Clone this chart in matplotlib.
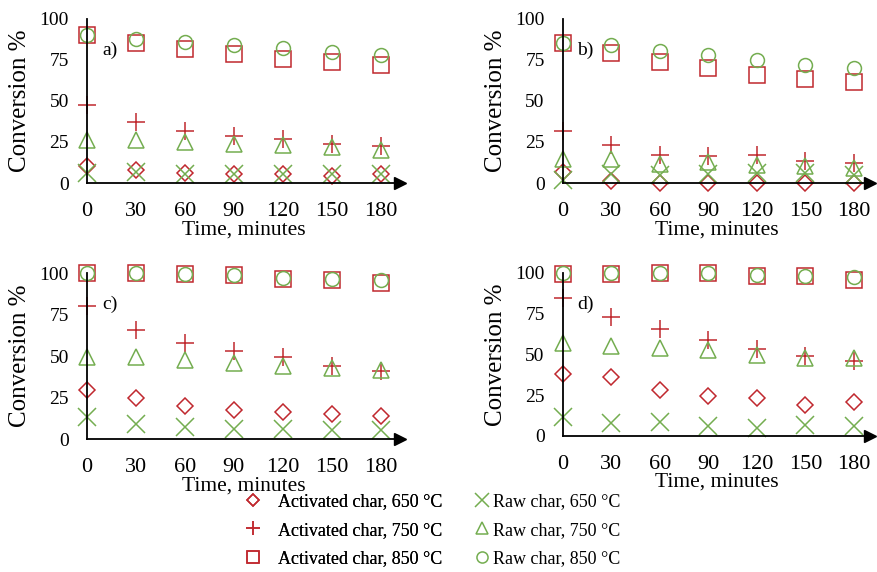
import matplotlib
matplotlib.use("Agg")
import matplotlib.pyplot as plt

plt.rcParams['font.family'] = ['Liberation Serif', 'DejaVu Serif']

# Datos
time = [0, 30, 60, 90, 120, 150, 180]
panels = ['a)', 'b)', 'c)', 'd)']

# series por panel: activado 650/750/850, crudo 650/750/850
act650 = [[10.5, 7.7, 6.1, 5.7, 5.7, 4.5, 5.3],
          [6.5, 1.0, 0.0, 0.0, 0.0, 0.0, 0.0],
          [29.6, 24.5, 20.1, 17.5, 16.5, 14.9, 13.9],
          [37.9, 35.9, 28.3, 24.6, 23.2, 19.1, 21.1]]
act750 = [[47.7, 37.3, 31.8, 28.4, 26.8, 23.9, 22.3],
          [31.8, 22.9, 17.2, 16.2, 17.2, 13.6, 12.2],
          [80.3, 65.8, 58.1, 53.1, 49.3, 44.0, 41.2],
          [84.6, 73.0, 65.6, 59.0, 53.5, 48.8, 46.3]]
act850 = [[90.3, 85.6, 81.5, 78.5, 75.5, 73.8, 71.6],
          [85.6, 79.5, 74.0, 70.0, 66.0, 63.5, 61.3],
          [100.0, 100.0, 99.4, 98.6, 96.6, 96.0, 94.0],
          [99.4, 99.4, 100.0, 100.0, 98.4, 98.0, 95.9]]
raw650 = [[6.0, 6.7, 5.5, 5.5, 5.5, 5.3, 5.3],
          [2.0, 5.7, 5.0, 5.7, 6.0, 6.0, 5.0],
          [13.1, 8.9, 7.4, 6.0, 6.0, 5.4, 5.4],
          [11.9, 7.8, 8.8, 6.1, 4.7, 6.8, 6.1]]
raw750 = [[26.4, 26.4, 24.7, 24.0, 23.0, 21.7, 19.9],
          [14.6, 14.6, 11.8, 12.6, 11.2, 10.1, 9.1],
          [49.7, 49.7, 47.7, 45.7, 44.0, 42.7, 41.6],
          [57.0, 55.3, 53.9, 52.9, 49.8, 47.7, 47.7]]
raw850 = [[90.0, 87.6, 86.0, 84.0, 82.0, 80.0, 78.0],
          [85.6, 83.8, 80.7, 78.0, 75.0, 72.0, 70.0],
          [100.0, 100.0, 99.4, 98.6, 97.0, 96.4, 95.6],
          [100.0, 100.0, 100.0, 100.0, 99.0, 98.4, 97.3]]

red = '#C0282E'
green = '#74AD50'
series = [
    (act650, 'D', red, 8, 'Activated char, 650 °C'),
    (act750, '+', red, 13, 'Activated char, 750 °C'),
    (act850, 's', red, 11, 'Activated char, 850 °C'),
    (raw650, 'x', green, 13, 'Raw char, 650 °C'),
    (raw750, '^', green, 11, 'Raw char, 750 °C'),
    (raw850, 'o', green, 10, 'Raw char, 850 °C'),
]

fig = plt.figure(figsize=(8.78, 5.72), dpi=100)
boxes = [(0.099, 0.680, 0.357, 0.287),
         (0.641, 0.680, 0.350, 0.287),
         (0.099, 0.2325, 0.357, 0.290),
         (0.641, 0.2378, 0.350, 0.285)]
xmax = [192, 190, 192, 190]

handles = []
for i, box in enumerate(boxes):
    ax = fig.add_axes(box)
    for data, m, c, ms, lab in series:
        h, = ax.plot(time, data[i], linestyle='none', marker=m, ms=ms,
                     mfc='none', mec=c, mew=1.1, clip_on=False, label=lab)
        if i == 0:
            handles.append(h)
    ax.set_xlim(0, xmax[i])
    ax.set_ylim(0, 100)
    ax.set_xticks(time)
    ax.set_yticks([0, 25, 50, 75, 100])
    ax.tick_params(length=0)
    ax.tick_params(axis='x', pad=14, labelsize=16)
    ax.tick_params(axis='y', pad=13, labelsize=14)
    for s in ['top', 'right']:
        ax.spines[s].set_visible(False)
    for s in ['left', 'bottom']:
        ax.spines[s].set_linewidth(1.3)
    ax.plot(1, 0, '>', color='black', ms=9, transform=ax.transAxes, clip_on=False)
    ax.set_xlabel('Time, minutes', fontsize=15.5, labelpad=-1)
    ax.set_ylabel('Conversion %', fontsize=18, labelpad=6)
    ax.text(14, 81, panels[i], fontsize=14, va='center', ha='center')
    ax.set_facecolor('none')

leg1 = fig.legend(handles=handles[:3], loc='center', bbox_to_anchor=(0.391, 0.073),
                  frameon=False, fontsize=13, markerscale=0.8,
                  handlelength=1.0, handletextpad=0.9, labelspacing=0.62)
fig.add_artist(leg1)
fig.legend(handles=handles[3:], loc='center', bbox_to_anchor=(0.623, 0.073),
           frameon=False, fontsize=13, markerscale=0.8,
           handlelength=1.0, handletextpad=0.1, labelspacing=0.62)

fig.savefig('out.png', dpi=100)
